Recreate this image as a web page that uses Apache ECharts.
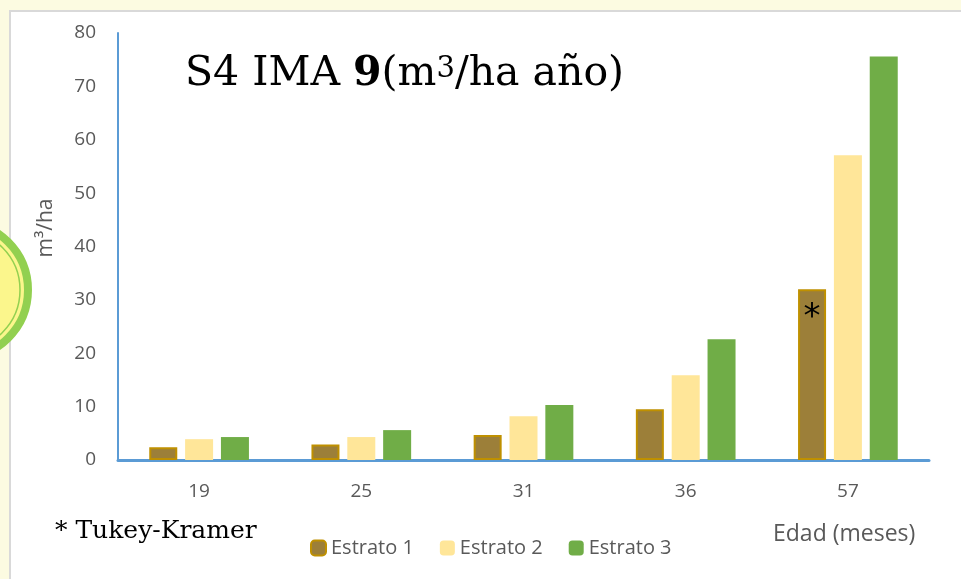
<!DOCTYPE html>
<html>
<head>
<meta charset="utf-8">
<script src="https://cdn.jsdelivr.net/npm/echarts@6/dist/echarts.min.js"></script>
<style>
  html, body { margin: 0; padding: 0; background: #fcfbe1; }
  #chart { width: 961px; height: 579px; }
</style>
</head>
<body>
<div id="chart"></div>
<script>
// edad (meses)
const categories = ['19', '25', '31', '36', '57'];
const estrato1 = [2.4, 2.9, 4.7, 9.5, 32.0];
const estrato2 = [3.9, 4.3, 8.2, 15.9, 57.1];
const estrato3 = [4.3, 5.6, 10.3, 22.6, 75.6];
const seriesNames = ['Estrato 1', 'Estrato 2', 'Estrato 3'];
const yTicks = [0, 10, 20, 30, 40, 50, 60, 70, 80];

const sans = 'Open Sans';
const serif = 'DejaVu Serif';
const grey = '#595959';

let chart = echarts.init(document.getElementById('chart'));

// el asterisco va sobre la barra de 57 meses del estrato 1
let e1Data = estrato1.map((v, i) => {
  if (i === 4) {
    return {
      value: v,
      label: {
        show: true, position: 'insideTop', distance: 12,
        formatter: '*', color: '#000', fontSize: 34, fontFamily: 'DejaVu Sans'
      }
    };
  }
  return v;
});

let option = {
  animation: false,
  backgroundColor: '#fcfbe1',
  graphic: [
    // panel blanco
    { type: 'rect', z: -10, shape: { x: 10, y: 11, width: 960, height: 580 },
      style: { fill: '#ffffff', stroke: '#d9d9d9', lineWidth: 2 } },
    // circulo decorativo a la izquierda
    { type: 'circle', z: -5, shape: { cx: -40, cy: 290, r: 68 },
      style: { fill: '#fbf68c', stroke: '#92d050', lineWidth: 8 } },
    { type: 'circle', z: -4, shape: { cx: -40, cy: 290, r: 60 },
      style: { fill: null, stroke: '#92d050', lineWidth: 1.5 } },
    // titulo
    { type: 'text', left: 185, top: 54,
      style: {
        text: '{a|S4 IMA }{b|9}{a|(m}{s|3}{a|/ha año)}',
        rich: {
          a: { fontFamily: serif, fontSize: 41, fill: '#000' },
          b: { fontFamily: serif, fontSize: 41, fontWeight: 'bold', fill: '#000' },
          s: { fontFamily: serif, fontSize: 29, fill: '#000', padding: [0, 0, 10, 0] }
        }
      } },
    { type: 'text', left: 55, top: 519,
      style: { text: '* Tukey-Kramer', fontFamily: serif, fontSize: 25, fill: '#000' } },
    { type: 'text', left: 773, top: 523,
      style: { text: 'Edad (meses)', fontFamily: sans, fontSize: 23, fill: grey } },
    { type: 'text', x: 46, y: 228, rotation: Math.PI / 2,
      style: { text: 'm³/ha', fontFamily: sans, fontSize: 21, fill: grey, align: 'center', verticalAlign: 'middle' } }
  ],
  grid: { left: 118, right: 32, top: 33, bottom: 119 },
  legend: {
    data: seriesNames,
    left: 305, top: 533,
    itemWidth: 15, itemHeight: 15, itemGap: 26,
    textStyle: { fontFamily: sans, fontSize: 20, color: grey }
  },
  xAxis: {
    type: 'category',
    data: categories,
    axisLine: { lineStyle: { color: '#5b9bd5', width: 3 } },
    axisTick: { show: false },
    axisLabel: { fontFamily: sans, fontSize: 19, color: grey, margin: 22 }
  },
  yAxis: {
    type: 'value',
    min: yTicks[0], max: yTicks[yTicks.length - 1], interval: 10,
    axisLine: { show: true, lineStyle: { color: '#5b9bd5', width: 2 } },
    axisTick: { show: false },
    splitLine: { show: false },
    axisLabel: { fontFamily: sans, fontSize: 19, color: grey, margin: 22 }
  },
  series: [
    { name: seriesNames[0], type: 'bar', data: e1Data, barWidth: 28, barGap: '28%',
      itemStyle: { color: '#9c7f39', borderColor: '#bf9000', borderWidth: 2 } },
    { name: seriesNames[1], type: 'bar', data: estrato2, barWidth: 28, barGap: '28%',
      itemStyle: { color: '#ffe699' } },
    { name: seriesNames[2], type: 'bar', data: estrato3, barWidth: 28, barGap: '28%',
      itemStyle: { color: '#70ad47' } }
  ]
};

chart.setOption(option);
</script>
</body>
</html>
